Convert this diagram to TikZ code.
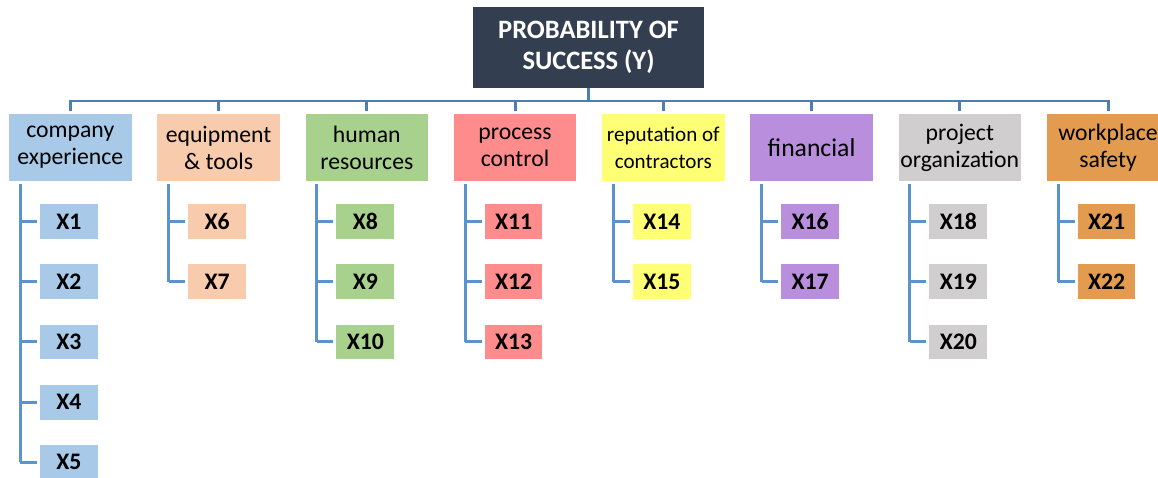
\documentclass[tikz,border=0pt]{standalone}
\usepackage{fontspec}
\setmainfont{Carlito}
\usetikzlibrary{positioning}

\definecolor{titlefill}{HTML}{333F50}
\definecolor{busblue}{HTML}{4A7EB5}
\definecolor{branchblue}{HTML}{5B93CC}
\definecolor{col1}{HTML}{A8CAE8}
\definecolor{col2}{HTML}{F8CBAD}
\definecolor{col3}{HTML}{A9D18E}
\definecolor{col4}{HTML}{FF8C8C}
\definecolor{col5}{HTML}{FFFF75}
\definecolor{col6}{HTML}{B98EDC}
\definecolor{col7}{HTML}{D0CECE}
\definecolor{col8}{HTML}{E39C4F}

\tikzset{
  bus/.style={draw=busblue, line width=1.7pt},
  branch/.style={draw=branchblue, line width=1.7pt},
  titlebox/.style={fill=titlefill, text=white, align=center,
    minimum width=131pt, minimum height=45.9pt, inner sep=0pt,
    font=\fontsize{15.1}{17.6}\selectfont\bfseries},
  catbox/.style={minimum width=69.7pt, minimum height=38pt, inner sep=0pt,
    outer sep=1.7pt, align=center,
    font=\fontsize{13.5}{15.3}\selectfont},
  leafbox/.style={minimum width=32.9pt, minimum height=19.8pt, inner sep=0pt,
    outer sep=1.7pt, font=\fontsize{13.5}{15}\selectfont\bfseries}
}

\begin{document}
\begin{tikzpicture}[x=0.02cm, y=-0.02cm]
  \useasboundingbox (0,0) rectangle (1158,477);

  \node[titlebox] (top) at (588.5,47.5) {PROBABILITY OF\\SUCCESS (Y)};

  % categories
  \foreach \c/\txt/\fs in {
      1/{company\\experience}/13.5,
      2/{equipment\\\& tools}/13.5,
      3/{human\\resources}/13.5,
      4/{process\\control}/13.5,
      5/{reputation of\\contractors}/12,
      6/{financial}/14.6,
      7/{project\\organization}/13.5,
      8/{workplace\\safety}/13.5}
    \node[catbox, fill=col\c, font=\fontsize{\fs}{15.3}\selectfont]
      (c\c) at ({70.3+148.25*(\c-1)},147.5) {\txt};

  % trunks start below each category
  \foreach \c in {1,...,8}
    \path (c\c.south) ++(-50,0) coordinate (t\c);

  % leaves: number/category/row
  \foreach \n/\c/\r in {1/1/0,2/1/1,3/1/2,4/1/3,5/1/4,
                        6/2/0,7/2/1,
                        8/3/0,9/3/1,10/3/2,
                        11/4/0,12/4/1,13/4/2,
                        14/5/0,15/5/1,
                        16/6/0,17/6/1,
                        18/7/0,19/7/1,20/7/2,
                        21/8/0,22/8/1}
    \node[leafbox, fill=col\c] (x\n) at ({68.8+148.25*(\c-1)},{221.5+60.2*\r}) {X\n};

  % bus from the title to the categories
  \coordinate (bus) at (588.5,101);
  \draw[bus] (top.south) -- (bus);
  \draw[bus] (c1.north) -- (c1.north |- bus) -- (c8.north |- bus) -- (c8.north);
  \foreach \c in {2,...,7}
    \draw[bus] (c\c.north) -- (c\c.north |- bus);

  % branches to the leaves
  \foreach \c/\last in {1/5,2/7,3/10,4/13,5/15,6/17,7/20,8/22}
    \draw[branch] (t\c) -- (t\c |- x\last.west);
  \foreach \n/\c in {1/1,2/1,3/1,4/1,5/1,6/2,7/2,8/3,9/3,10/3,11/4,12/4,13/4,
                     14/5,15/5,16/6,17/6,18/7,19/7,20/7,21/8,22/8}
    \draw[branch] (t\c |- x\n.west) -- (x\n.west);
\end{tikzpicture}
\end{document}
